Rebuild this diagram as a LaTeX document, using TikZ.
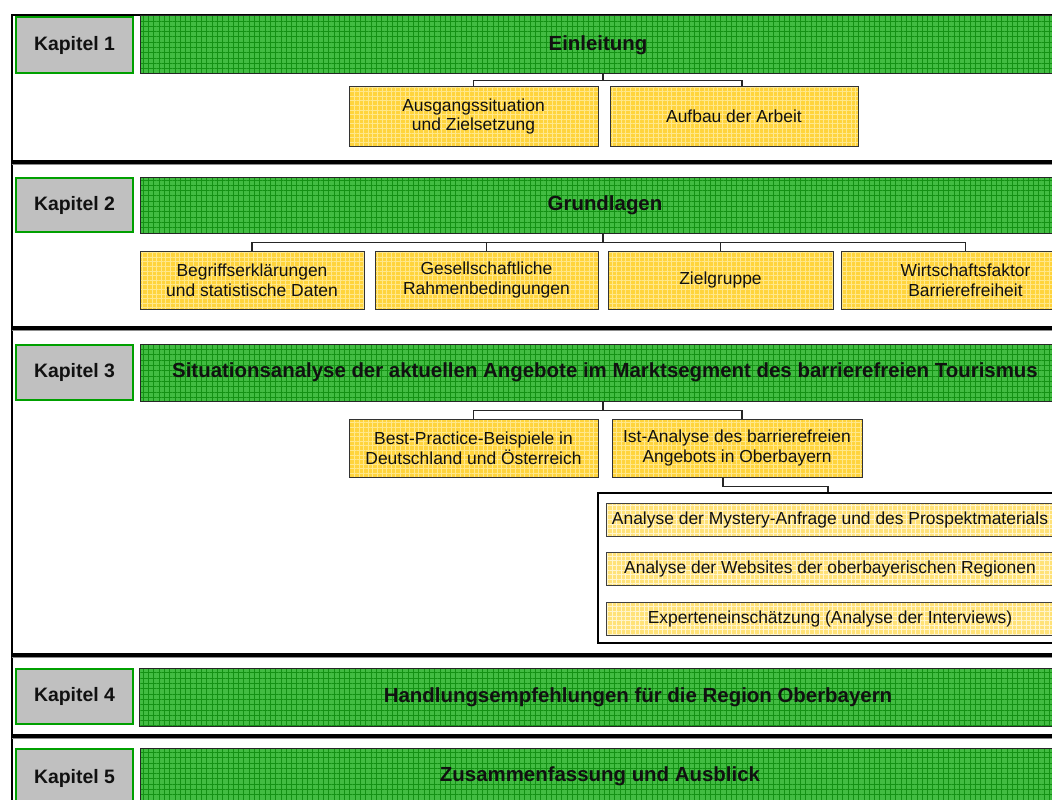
\documentclass[tikz,border=0pt]{standalone}
\usepackage{fontspec}
\setmainfont{Liberation Sans}
\usetikzlibrary{patterns.meta,fit}
\definecolor{kgray}{RGB}{192,192,192}
\definecolor{kgreenb}{RGB}{0,160,0}
\definecolor{gfill}{RGB}{66,188,66}
\definecolor{ggrid}{RGB}{20,145,20}
\definecolor{yfill}{RGB}{255,212,60}
\definecolor{ygrid}{RGB}{255,232,140}
\definecolor{pfill}{RGB}{255,226,120}
\definecolor{pgrid}{RGB}{255,245,205}
\definecolor{txt}{RGB}{17,17,17}
\tikzset{
  x=1bp, y=-1bp,
  kbox/.style={fill=kgray, draw=kgreenb, line width=2bp, inner sep=0pt},
  gbox/.style={preaction={fill=gfill},
    preaction={pattern={Hatch[angle=0,distance=5.3bp,line width=0.7bp]}, pattern color=ggrid},
    draw=black!85, line width=1bp, inner sep=0pt},
  ybox/.style={preaction={fill=yfill},
    preaction={pattern={Hatch[angle=0,distance=4.6bp,line width=0.6bp]}, pattern color=ygrid},
    draw=black!80, line width=1bp, inner sep=0pt},
  pbox/.style={preaction={fill=pfill},
    preaction={pattern={Hatch[angle=0,distance=4.6bp,line width=0.6bp]}, pattern color=pgrid},
    draw=black!75, line width=1bp, inner sep=0pt},
  framebox/.style={draw=black, line width=2.5bp, fill=white, inner sep=0pt},
  ktext/.style={font=\fontsize{19.5}{21}\selectfont\bfseries, text=txt},
  ttext/.style={font=\fontsize{20.5}{22}\selectfont\bfseries, text=txt},
  ytext/.style={font=\fontsize{17.5}{20}\selectfont, text=txt, align=center},
  conn/.style={draw=black!85, line width=1.2bp},
  sepline/.style={draw=black, line width=3.2bp},
  sepshade/.style={draw=black!45, line width=1bp},
}
\newcommand\mybox[6]{\node[#6, fit={(#2,#3) (#4,#5)}] (#1) {};}
\begin{document}
\begin{tikzpicture}
\useasboundingbox (0,0) rectangle (1052,800);
\clip (0,0) rectangle (1052,800);
\fill[white] (0,0) rectangle (1052,800);
% outer frame
\draw[line width=2.2bp] (12,830) -- (12,15) -- (1080,15);
% separators
\foreach \yy in {162,328,655,736}{
  \draw[sepshade] (12,\yy+2.2) -- (1080,\yy+2.2);
  \draw[sepline] (12,\yy) -- (1080,\yy);
}
% ---- Kapitel 1
\mybox{k1}{16}{17}{133}{73}{kbox}
\node[ktext] (k1t) at (k1) {Kapitel 1};
\mybox{g1}{140}{16}{1066}{74}{gbox}
\node[ttext] (g1t) at (598,45) {Einleitung};
\mybox{a1}{349}{87}{598}{146}{ybox}
\node[ytext] (a1t) at (a1) {Ausgangssituation\\und Zielsetzung};
\mybox{a2}{610}{87}{858}{146}{ybox}
\node[ytext] (a2t) at (a2) {Aufbau der Arbeit};
\draw[conn] (g1.south) -- ++(0,6) coordinate (j1);
\draw[conn] (j1) -| (a1.north);
\draw[conn] (j1) -| ([xshift=8bp]a2.north);
% ---- Kapitel 2
\mybox{k2}{16}{178}{133}{232}{kbox}
\node[ktext] (k2t) at (k2) {Kapitel 2};
\mybox{g2}{140}{177}{1066}{233}{gbox}
\node[ttext] (g2t) at (605,205) {Grundlagen};
\mybox{b1}{140}{251}{364}{309}{ybox}
\node[ytext] (b1t) at (b1) {Begriffserklärungen\\und statistische Daten};
\mybox{b2}{375}{251}{598}{309}{ybox}
\node[ytext] (b2t) at (b2) {Gesellschaftliche\\Rahmenbedingungen};
\mybox{b3}{608}{251}{833}{309}{ybox}
\node[ytext] (b3t) at (b3) {Zielgruppe};
\mybox{b4}{841}{251}{1090}{309}{ybox}
\node[ytext] (b4t) at (b4) {Wirtschaftsfaktor\\Barrierefreiheit};
\draw[conn] (g2.south) -- ++(0,9) coordinate (j2);
\draw[conn] (j2) -| (b1.north);
\draw[conn] (j2) -| (b2.north);
\draw[conn] (j2) -| (b3.north);
\draw[conn] (j2) -| (b4.north);
% ---- Kapitel 3
\mybox{k3}{16}{345}{133}{400}{kbox}
\node[ktext] (k3t) at (k3) {Kapitel 3};
\mybox{g3}{140}{344}{1066}{401}{gbox}
\node[ttext] (g3t) at (605,372) {Situationsanalyse der aktuellen Angebote im Marktsegment des barrierefreien Tourismus};
\mybox{c1}{349}{419}{598}{477}{ybox}
\node[ytext] (c1t) at (c1) {Best-Practice-Beispiele in\\Deutschland und Österreich};
\mybox{c2}{612}{419}{862}{477}{ybox}
\node[ytext] (c2t) at (c2) {Ist-Analyse des barrierefreien\\Angebots in Oberbayern};
\draw[conn] (g3.south) -- ++(0,9) coordinate (j3);
\draw[conn] (j3) -| (c1.north);
\draw[conn] (j3) -| ([xshift=5bp]c2.north);
\mybox{fr}{598}{493}{1058}{643}{framebox}
\draw[conn] ([xshift=-14bp]c2.south) -- ++(0,9) -| (fr.north);
\mybox{d1}{606}{503}{1054}{536}{pbox}
\node[ytext] (d1t) at (d1) {Analyse der Mystery-Anfrage und des Prospektmaterials};
\mybox{d2}{606}{552}{1054}{585}{pbox}
\node[ytext] (d2t) at (d2) {Analyse der Websites der oberbayerischen Regionen};
\mybox{d3}{606}{602}{1054}{635}{pbox}
\node[ytext] (d3t) at (d3) {Experteneinschätzung (Analyse der Interviews)};
% ---- Kapitel 4
\mybox{k4}{16}{669}{133}{724}{kbox}
\node[ktext] (k4t) at (k4) {Kapitel 4};
\mybox{g4}{139}{668}{1066}{726}{gbox}
\node[ttext] (g4t) at (638,697) {Handlungsempfehlungen für die Region Oberbayern};
% ---- Kapitel 5
\mybox{k5}{16}{749}{133}{807}{kbox}
\node[ktext] (k5t) at (k5) {Kapitel 5};
\mybox{g5}{140}{748}{1066}{808}{gbox}
\node[ttext] (g5t) at (600,776) {Zusammenfassung und Ausblick};
\end{tikzpicture}
\end{document}
